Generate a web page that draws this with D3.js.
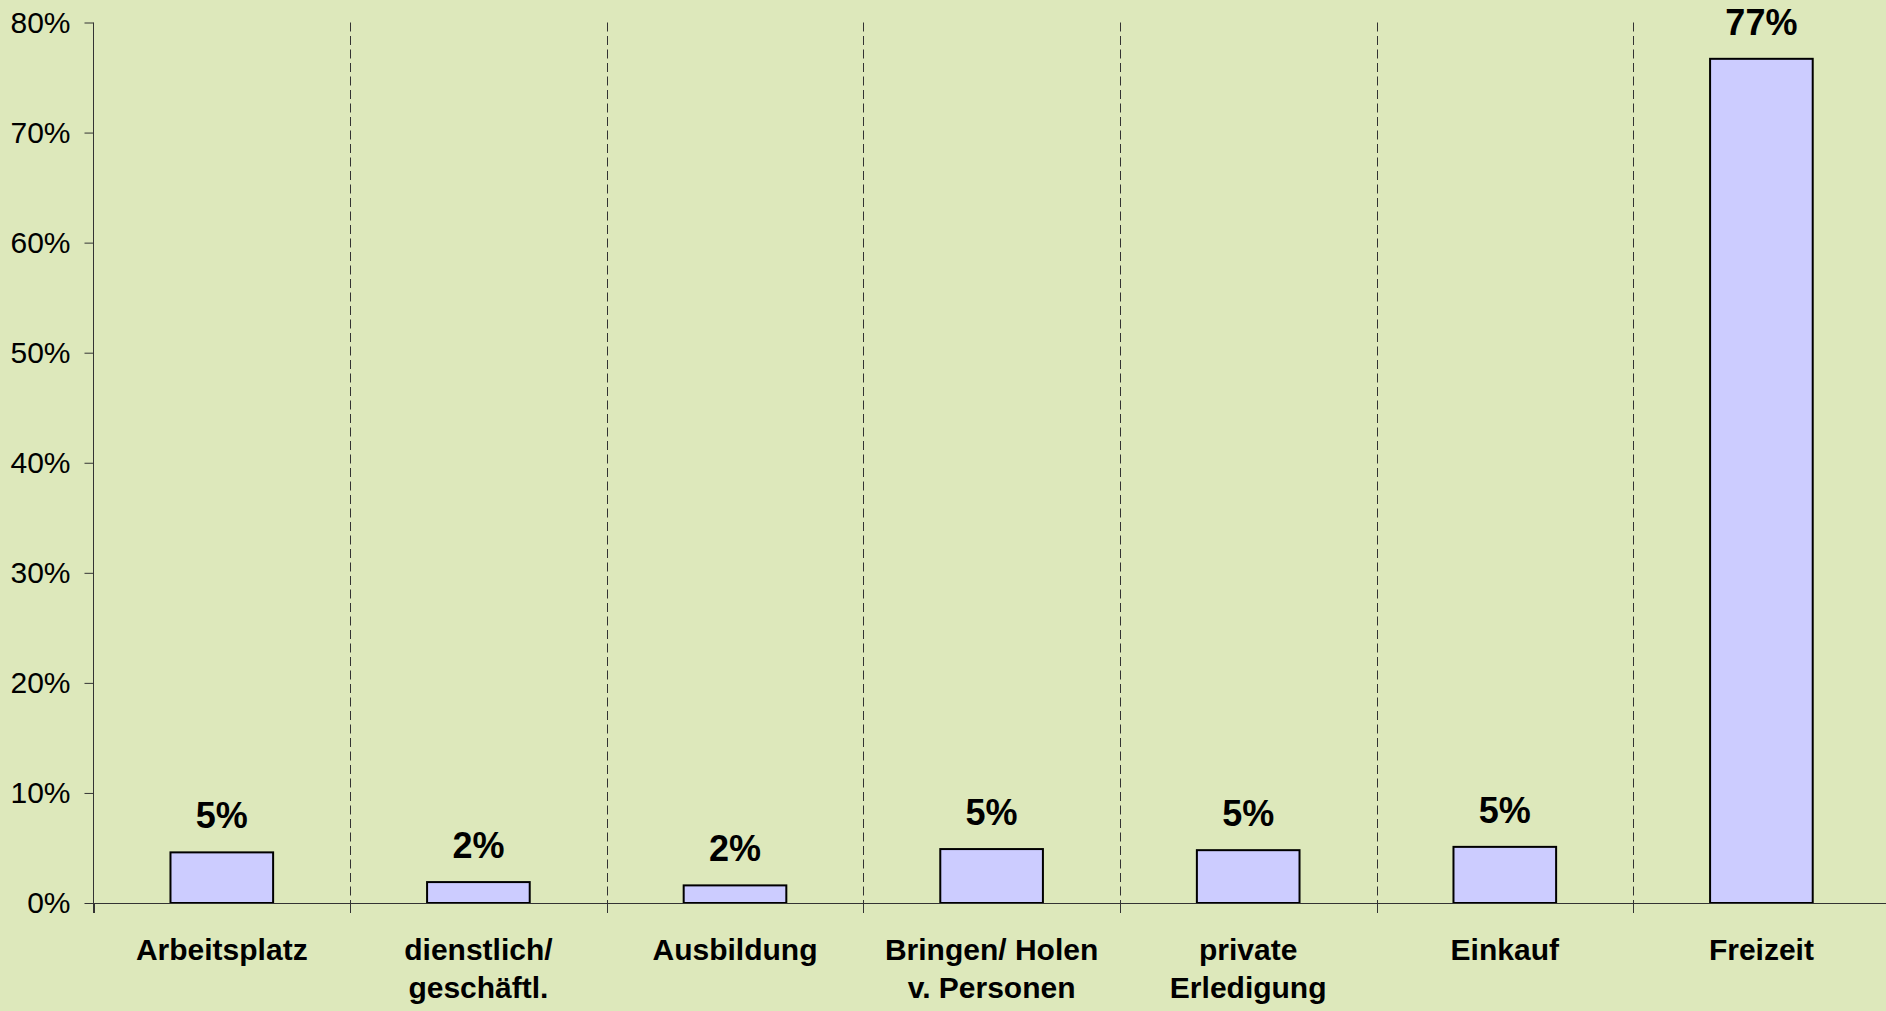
<!DOCTYPE html>
<meta charset="utf-8">
<style>
body { margin: 0; background: #dde8bb; }
svg { display: block; font-family: "Liberation Sans", Arial, sans-serif; }
.bar { fill: #ccccff; stroke: #000; stroke-width: 2; }
.val { font-weight: bold; font-size: 36px; text-anchor: middle; }
.cat { font-weight: bold; font-size: 30px; text-anchor: middle; }
.grid { stroke: #333; stroke-width: 1; stroke-dasharray: 9 4.5; }
</style>
<svg width="1886" height="1011"></svg>
<script src="https://d3js.org/d3.v7.min.js"></script>
<script>
// Anteil der Wege nach Zweck
var categories = ["Arbeitsplatz", "dienstlich/ geschäftl.", "Ausbildung", "Bringen/ Holen v. Personen",
                  "private Erledigung", "Einkauf", "Freizeit"];
var catLines = [["Arbeitsplatz"], ["dienstlich/", "geschäftl."], ["Ausbildung"], ["Bringen/ Holen", "v. Personen"],
                ["private", "Erledigung"], ["Einkauf"], ["Freizeit"]];
var values = [0.046, 0.019, 0.016, 0.049, 0.048, 0.051, 0.767];
var yTicks = [0, 0.1, 0.2, 0.3, 0.4, 0.5, 0.6, 0.7, 0.8];

var svg = d3.select("svg");
var left = 93.5, marginTop = 22.5, bottom = 903;

var x = d3.scaleBand()
    .domain(categories)
    .range([left, left + 7 * 256.6]);
var y = d3.scaleLinear()
    .domain([0, 0.8])
    .range([bottom, marginTop]);

var data = categories.map(function(c, i) { return {c: c, v: values[i], lines: catLines[i]}; });

// dashed dividers between categories
svg.selectAll("line.grid")
    .data(categories.slice(1))
    .enter().append("line")
        .attr("class", "grid")
        .attr("x1", function(d) { return Math.round(x(d)) + 0.5; })
        .attr("x2", function(d) { return Math.round(x(d)) + 0.5; })
        .attr("y1", y(0.8))
        .attr("y2", bottom);

// boundary ticks below x axis
svg.selectAll("line.btick")
    .data(categories)
    .enter().append("line")
        .attr("class", "btick")
        .attr("stroke", "#333")
        .attr("x1", function(d) { return Math.round(x(d)) + 0.5; })
        .attr("x2", function(d) { return Math.round(x(d)) + 0.5; })
        .attr("y1", bottom)
        .attr("y2", bottom + 10);

// y axis
var yAxis = svg.append("g")
    .attr("transform", "translate(" + left + ",0)")
    .call(d3.axisLeft(y).tickValues(yTicks).tickFormat(d3.format(".0%"))
        .tickSizeInner(9).tickSizeOuter(0).tickPadding(14));
yAxis.select(".domain").remove();
yAxis.selectAll("line").attr("stroke", "#333");
yAxis.selectAll("text")
    .attr("fill", "#000")
    .style("font-size", "30px")
    .style("font-family", "'Liberation Sans', Arial, sans-serif");

svg.append("line")
    .attr("stroke", "#333")
    .attr("x1", left).attr("x2", left)
    .attr("y1", y(0.8)).attr("y2", bottom + 10);

// bars
var bw = x.bandwidth() * 0.4;
svg.selectAll("rect.bar")
    .data(data)
    .enter().append("rect")
        .attr("class", "bar")
        .attr("x", function(d) { return x(d.c) + x.bandwidth() / 2 - bw / 2; })
        .attr("y", function(d) { return y(d.v); })
        .attr("width", bw)
        .attr("height", function(d) { return bottom - y(d.v); });

// x axis line
svg.append("line")
    .attr("stroke", "#333")
    .attr("x1", left).attr("x2", 1886)
    .attr("y1", bottom + 0.5).attr("y2", bottom + 0.5);

// value labels
svg.selectAll("text.val")
    .data(data)
    .enter().append("text")
        .attr("class", "val")
        .attr("x", function(d) { return x(d.c) + x.bandwidth() / 2; })
        .attr("y", function(d) { return y(d.v) - 24; })
        .text(function(d) { return Math.round(d.v * 100) + "%"; });

// category labels
var cats = svg.selectAll("text.cat")
    .data(data)
    .enter().append("text")
        .attr("class", "cat")
        .attr("x", function(d) { return x(d.c) + x.bandwidth() / 2; })
        .attr("y", 960);
cats.selectAll("tspan")
    .data(function(d) { return d.lines.map(function(l) { return {l: l, x: x(d.c) + x.bandwidth() / 2}; }); })
    .enter().append("tspan")
        .attr("x", function(d) { return d.x; })
        .attr("dy", function(d, i) { return i === 0 ? 0 : 38; })
        .text(function(d) { return d.l; });
</script>
